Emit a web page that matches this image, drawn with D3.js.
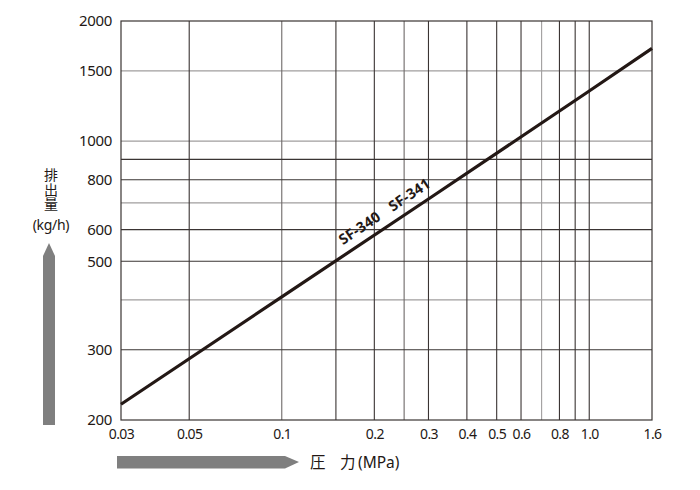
<!DOCTYPE html>
<html>
<head>
<meta charset="utf-8">
<script src="https://cdn.jsdelivr.net/npm/d3@7"></script>
<style>
  html, body { margin: 0; padding: 0; background: #fff; }
  svg { display: block; font-family: "Noto Sans", "Noto Sans CJK JP", sans-serif; }
</style>
</head>
<body>
<svg id="chart" width="700" height="490"></svg>
<script>
// ---- data ----
const pressure = [0.03, 0.1, 0.3, 1.0, 1.6];          // MPa
const discharge = [219, 407, 716, 1335, 1708];        // kg/h
const seriesLabels = ["SF-340", "SF-341"];
const xTickValues = [0.03, 0.05, 0.1, 0.2, 0.3, 0.4, 0.5, 0.6, 0.8, 1.0, 1.6];
const xTickLabels = ["0.03", "0.05", "0.1", "0.2", "0.3", "0.4", "0.5", "0.6", "0.8", "1.0", "1.6"];
const yTickValues = [200, 300, 500, 600, 800, 1000, 1500, 2000];
const yTickLabels = ["200", "300", "500", "600", "800", "1000", "1500", "2000"];
const xGridDark = [0.05, 0.15, 0.2, 0.3, 0.4, 0.5, 0.6, 0.8, 0.9, 1.0];
const xGridMid = [0.1, 0.25];
const xGridLight = [0.7];
const yGridDark = [300, 500, 600, 800, 900];
const yGridLight = [400, 700, 1000, 1500];
const labelAnchorX = 0.225;

// ---- layout ----
const svg = d3.select("#chart");
const L = 121, R = 652, T = 21, B = 420;
const x = d3.scaleLog().domain([0.03, 1.6]).range([L, R]);
const y = d3.scaleLog().domain([200, 2000]).range([B, T]);
const ink = "#231815";

const grid = svg.append("g");
function vlines(vals, color) {
  grid.selectAll(null).data(vals).enter().append("line")
    .attr("x1", d => x(d)).attr("x2", d => x(d))
    .attr("y1", T).attr("y2", B)
    .attr("stroke", color).attr("stroke-width", 1.1);
}
function hlines(vals, color) {
  grid.selectAll(null).data(vals).enter().append("line")
    .attr("x1", L).attr("x2", R)
    .attr("y1", d => y(d)).attr("y2", d => y(d))
    .attr("stroke", color).attr("stroke-width", 1.1);
}
hlines(yGridLight, "#a09e9e");
vlines(xGridLight, "#a09e9e");
vlines(xGridMid, "#6e6968");
hlines(yGridDark, "#3a3433");
vlines(xGridDark, "#3a3433");

// frame
svg.append("rect").attr("x", L).attr("y", T).attr("width", R - L).attr("height", B - T)
  .attr("fill", "none").attr("stroke", "#3a3433").attr("stroke-width", 1.2);

// axes labels
const xAxis = d3.axisBottom(x).tickValues(xTickValues)
  .tickFormat((d, i) => xTickLabels[i]).tickSize(0).tickPadding(9);
const gx = svg.append("g").attr("transform", `translate(0,${B})`).call(xAxis);
gx.select(".domain").remove();
gx.selectAll("text").attr("fill", ink).style("font-size", "14px")
  .style("letter-spacing", "-0.6px")
  .style("font-family", '"Noto Sans", sans-serif');

const yAxis = d3.axisLeft(y).tickValues(yTickValues)
  .tickFormat((d, i) => yTickLabels[i]).tickSize(0).tickPadding(9);
const gy = svg.append("g").attr("transform", `translate(${L},0)`).call(yAxis);
gy.select(".domain").remove();
gy.selectAll("text").attr("fill", ink).style("font-size", "15px")
  .style("letter-spacing", "-0.3px")
  .style("font-family", '"Noto Sans", sans-serif');

// data line
const pts = pressure.map((p, i) => [p, discharge[i]]);
svg.append("path").datum(pts)
  .attr("d", d3.line().x(d => x(d[0])).y(d => y(d[1])))
  .attr("fill", "none").attr("stroke", ink).attr("stroke-width", 3.2);

// series label along line
const p0 = [x(pressure[0]), y(discharge[0])];
const p1 = [x(pressure[pressure.length - 1]), y(discharge[discharge.length - 1])];
const ang = Math.atan2(p1[1] - p0[1], p1[0] - p0[0]) * 180 / Math.PI;
const interp = d3.scaleLog().domain(pressure).range(discharge);
const ax = x(labelAnchorX), ay = y(interp(labelAnchorX));
const lg = svg.append("g").attr("transform", `translate(${ax},${ay}) rotate(${ang})`);
lg.selectAll(null).data(seriesLabels).enter().append("text")
  .attr("x", (d, i) => i === 0 ? -30 : 30)
  .attr("y", -5)
  .attr("text-anchor", "middle")
  .attr("fill", ink)
  .style("font-size", "14.5px").style("font-weight", "bold")
  .style("letter-spacing", "0.2px")
  .text(d => d);

// y title (vertical stacked)
svg.append("text").attr("x", 51).attr("y", 168)
  .attr("fill", ink)
  .style("writing-mode", "vertical-rl")
  .style("font-family", '"Noto Sans CJK JP", sans-serif')
  .style("font-size", "14px").style("letter-spacing", "0.5px")
  .text("排出量");
svg.append("text").attr("x", 51).attr("y", 230).attr("text-anchor", "middle")
  .attr("fill", ink)
  .style("font-size", "14px").style("letter-spacing", "-0.3px").text("(kg/h)");

// up arrow
svg.append("path")
  .attr("d", "M43,425 L43,256 L49,243 L55,256 L55,425 Z")
  .attr("fill", "#7f7f7f");

// right arrow
svg.append("path")
  .attr("d", "M117,456 L285,456 L299,462 L285,468.5 L117,468.5 Z")
  .attr("fill", "#7f7f7f");

// x title
const xt = svg.append("text").attr("x", 310).attr("y", 467.5).attr("fill", ink)
  .style("font-size", "15.5px");
xt.append("tspan").style("font-family", '"Noto Sans CJK JP", sans-serif').text("圧");
xt.append("tspan").attr("x", 340).style("font-family", '"Noto Sans CJK JP", sans-serif').text("力");
xt.append("tspan").attr("x", 358).text("(MPa)");
</script>
</body>
</html>
